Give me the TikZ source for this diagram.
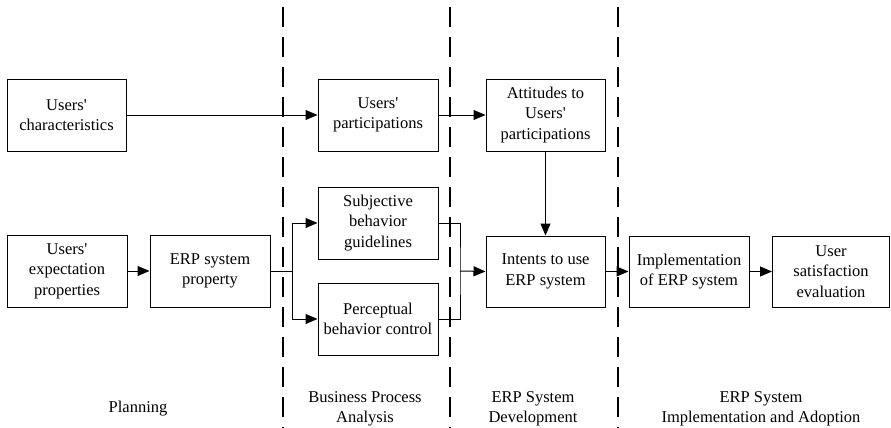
\documentclass[tikz,border=0pt]{standalone}
\usepackage{fontspec}
\setmainfont{Liberation Serif}
\usetikzlibrary{arrows.meta}
\newcommand{\usr}{Users\textquotesingle}
\begin{document}
\begin{tikzpicture}[x=1pt,y=-1pt,
  box/.style={draw,line width=1pt,minimum width=120pt,minimum height=72pt,align=center,inner sep=1pt,
    font=\rmfamily\fontsize{16.5}{20.5}\selectfont},
  lbl/.style={align=center,font=\rmfamily\fontsize{16.5}{20}\selectfont},
  conn/.style={line width=1pt},
  arr/.style={line width=1pt,-{Triangle[length=12pt,width=10pt]}},
  phase/.style={line width=2.4pt,dash pattern=on 20pt off 10pt}]
\useasboundingbox (0,0) rectangle (891,428);
% phase separators
\draw[phase] (283,7) -- (283,428);
\draw[phase] (450,7) -- (450,428);
\draw[phase] (618,7) -- (618,428);
% boxes
\node[box,minimum width=119pt] (uc) at (66.5,115) {\usr\\characteristics};
\node[box] (up) at (378,115) {\usr\\participations};
\node[box,minimum width=119pt] (att) at (545.5,115) {Attitudes to\\\usr\\participations};
\node[box] (ue) at (67,271) {\usr\\expectation\\properties};
\node[box] (erp) at (210,271) {ERP system\\property};
\node[box] (sub) at (378,223) {Subjective\\behavior\\guidelines};
\node[box] (per) at (378,319) {Perceptual\\behavior control};
\node[box,minimum width=119pt,minimum height=71pt] (int) at (545.5,271.5) {Intents to use\\ERP system};
\node[box,minimum height=71pt] (imp) at (689,271.5) {Implementation\\of ERP system};
\node[box,minimum width=117pt,minimum height=71pt] (us) at (831,271.5) {User\\satisfaction\\evaluation};
% phase labels
\node[lbl] (l1) at (138,409) {Planning};
\node[lbl] (l2) at (365,409) {Business Process\\Analysis};
\node[lbl] (l3) at (533,409) {ERP System\\Development};
\node[lbl] (l4) at (761,409) {ERP System\\Implementation and Adoption};
% connectors
\coordinate (j) at (292,271);
\coordinate (k) at (460,271);
\draw[arr] (uc) -- (up);
\draw[arr] (up) -- (att);
\draw[arr] (att) -- (int);
\draw[arr] (ue) -- (erp);
\draw[conn] (erp.east) -- (j);
\draw[arr] (j) |- (sub.west);
\draw[arr] (j) |- (per.west);
\draw[conn] (sub.east) -| (k) |- (per.east);
\draw[arr] (k) -- (int.west);
\draw[arr] (int) -- (imp);
\draw[arr] (imp) -- (us);
\end{tikzpicture}
\end{document}
